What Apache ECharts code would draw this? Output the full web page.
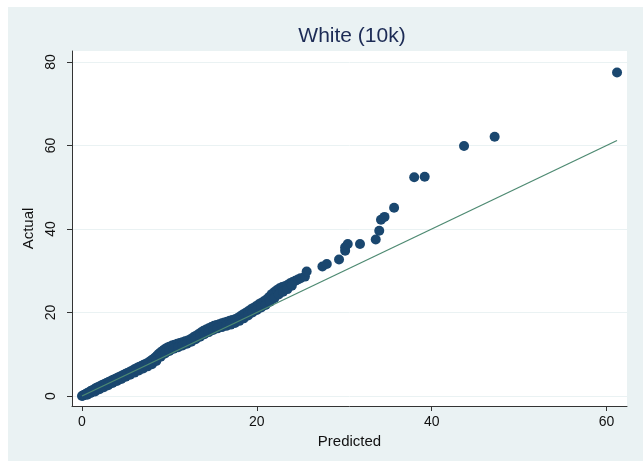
<!DOCTYPE html>
<html>
<head>
<meta charset="utf-8">
<script src="https://cdn.jsdelivr.net/npm/echarts@6/dist/echarts.min.js"></script>
<style>
  html, body { margin: 0; padding: 0; background: #ffffff; }
  #wrap { position: relative; width: 643px; height: 461px; }
  #bg { position: absolute; left: 8px; top: 7px; right: 0; bottom: 0; background: #eaf2f3; }
  #chart { position: absolute; left: 0; top: 0; width: 643px; height: 461px; }
</style>
</head>
<body>
<div id="wrap"><div id="bg"></div><div id="chart"></div></div>
<script>
const titleText = 'White (10k)';
const xName = 'Predicted';
const yName = 'Actual';
const xTicks = [0, 20, 40, 60];
const yTicks = [0, 20, 40, 60, 80];

const predicted = [
  0, 0.1, 0.2, 0.3, 0.4, 0.5, 0.6, 0.8, 1.0, 1.2, 1.4, 1.6, 1.8, 2.0, 2.2, 2.4, 2.6, 2.8,
  3.0, 3.2, 3.4, 3.6, 3.8, 4.0, 4.2, 4.4, 4.6, 4.8, 5.0, 5.2, 5.4, 5.6, 5.8, 6.0, 6.2, 6.4,
  6.6, 6.8, 7.0, 7.2, 7.4, 7.6, 7.8, 8.0, 8.2, 8.4, 8.6, 8.8, 9.0, 9.2, 9.4, 9.6, 9.8, 10.0,
  10.3, 10.6, 10.9, 11.2, 11.5, 11.8, 12.1, 12.4, 12.7, 13.0, 13.3, 13.6, 13.9, 14.2, 14.5,
  14.8, 15.1, 15.4, 15.7, 16.0, 16.3, 16.6, 16.9, 17.2, 17.5, 17.8, 18.1, 18.4, 18.7, 19.0,
  19.3, 19.6, 19.9, 20.2, 20.5, 20.8, 21.1, 21.4, 21.7, 22.0, 22.3, 22.6, 22.9, 23.2, 23.5,
  23.8, 24.1, 24.4, 24.7, 25.0, 25.5, 25.7,
  0.6, 1.0, 1.5, 2.0, 2.5, 3.0, 3.5, 4.0, 4.5, 5.0, 5.5, 6.0, 6.5, 7.0, 7.5, 8.0, 8.5, 9.0,
  9.5, 10.0, 10.5, 11.0, 11.5, 12.0, 12.5, 13.0, 13.5, 14.0, 14.5, 15.0, 15.5, 16.0, 16.5,
  17.0, 17.5, 18.0, 18.5, 19.0, 19.5, 20.0, 20.5, 21.0, 21.5, 22.0, 22.5, 23.0, 23.5, 24.0,
  27.5, 28.0, 29.4, 30.1, 30.1, 30.4, 31.8, 33.6, 34.0, 34.2, 34.6, 35.7, 38.0, 39.2, 43.7, 47.2, 61.2
];
const actual = [
  0, 0.1, 0.2, 0.3, 0.4, 0.5, 0.7, 0.9, 1.2, 1.4, 1.6, 1.9, 2.1, 2.3, 2.5, 2.7, 2.9, 3.1,
  3.3, 3.5, 3.7, 3.9, 4.1, 4.3, 4.5, 4.7, 4.9, 5.1, 5.3, 5.5, 5.7, 5.9, 6.1, 6.4, 6.6, 6.8,
  7.0, 7.2, 7.4, 7.6, 7.8, 8.0, 8.3, 8.6, 8.9, 9.3, 9.7, 10.1, 10.5, 10.8, 11.1, 11.4, 11.6, 11.8,
  12.1, 12.3, 12.5, 12.7, 12.9, 13.1, 13.3, 13.6, 14.0, 14.4, 14.8, 15.2, 15.6, 15.9, 16.2,
  16.5, 16.8, 17.0, 17.2, 17.4, 17.6, 17.8, 18.0, 18.2, 18.4, 18.7, 19.1, 19.5, 19.9, 20.3,
  20.7, 21.1, 21.5, 21.9, 22.3, 22.7, 23.1, 23.7, 24.4, 24.9, 25.4, 25.8, 26.1, 26.3, 26.6,
  27.0, 27.3, 27.6, 27.9, 28.2, 28.6, 29.8,
  0.3, 0.7, 1.1, 1.6, 2.1, 2.6, 3.1, 3.6, 4.1, 4.6, 5.1, 5.6, 6.1, 6.6, 7.1, 7.6, 8.4, 9.4,
  10.2, 10.8, 11.3, 11.7, 12.1, 12.5, 13.0, 13.6, 14.2, 14.8, 15.3, 15.8, 16.2, 16.5, 16.8,
  17.1, 17.5, 18.0, 18.6, 19.3, 20.0, 20.6, 21.2, 21.8, 22.6, 23.4, 24.3, 25.0, 25.6, 26.4,
  31.0, 31.6, 32.7, 34.8, 35.6, 36.4, 36.4, 37.5, 39.6, 42.2, 42.9, 45.1, 52.4, 52.5, 59.9, 62.1, 77.5
];
const fitX = [0, 61.2];
const fitY = [0, 61.2];

const points = predicted.map((p, i) => [p, actual[i]]);
const fitPoints = fitX.map((x, i) => [x, fitY[i]]);

const chart = echarts.init(document.getElementById('chart'), null, { renderer: 'canvas' });
const font = 'Liberation Sans, Arial, Helvetica, sans-serif';
chart.setOption({
  backgroundColor: 'transparent',
  animation: false,
  title: {
    text: titleText,
    left: 347, top: 21, textAlign: 'center',
    textStyle: { fontFamily: font, fontSize: 21, fontWeight: 'normal', color: '#1c2b55' }
  },
  grid: {
    left: 72, right: 16, top: 51, bottom: 55,
    show: true, backgroundColor: '#ffffff', borderWidth: 0
  },
  xAxis: {
    type: 'value', min: -1.144, max: 62.34,
    name: xName, nameLocation: 'middle', nameGap: 27,
    nameTextStyle: { fontFamily: font, fontSize: 15, color: '#111' },
    axisLine: { show: true, onZero: false, lineStyle: { color: '#333', width: 1 } },
    axisTick: { show: true, length: 5, customValues: xTicks, lineStyle: { color: '#333' } },
    axisLabel: { customValues: xTicks, margin: 9, fontFamily: font, fontSize: 14, color: '#111' },
    splitLine: { show: false }
  },
  yAxis: {
    type: 'value', min: -2.395, max: 82.635,
    name: yName, nameLocation: 'middle', nameGap: 31,
    nameTextStyle: { fontFamily: font, fontSize: 15, color: '#111' },
    axisLine: { show: true, onZero: false, lineStyle: { color: '#333', width: 1 } },
    axisTick: { show: true, length: 5, customValues: yTicks, lineStyle: { color: '#333' } },
    axisLabel: { customValues: yTicks, margin: 14, rotate: 90, fontFamily: font, fontSize: 14, color: '#111' },
    splitLine: { show: true, lineStyle: { color: '#eaf2f3', width: 1 } }
  },
  series: [
    {
      type: 'scatter', data: points, symbol: 'circle', symbolSize: 10, z: 2,
      itemStyle: { color: '#1a476f', opacity: 1 }
    },
    {
      type: 'line', data: fitPoints, symbol: 'none', z: 3,
      lineStyle: { color: '#4e8a72', width: 1.3 }
    }
  ]
});
</script>
</body>
</html>
